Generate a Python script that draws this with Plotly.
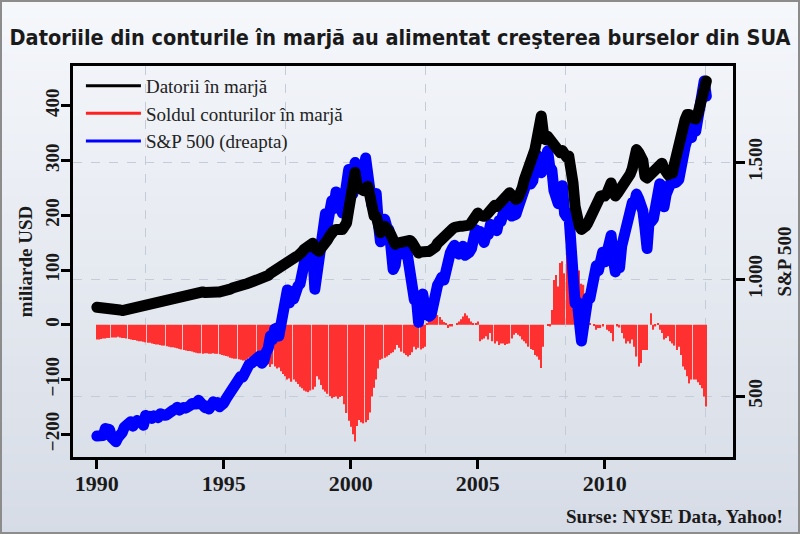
import plotly.graph_objects as go

# ---------------- data (monthly, Jan 1990 - Jan 2014) ----------------
start_year = 1990
margin_debt = [  # Datorii în marjă, miliarde USD (left axis)
    32, 32, 31, 31, 31, 31, 30, 29, 28, 27, 27, 27,        # 1990
    26, 27, 28, 29, 29, 30, 31, 32, 33, 34, 35, 36,        # 1991
    36, 37, 38, 39, 40, 41, 41, 42, 43, 44, 45, 46,        # 1992
    47, 48, 49, 50, 51, 53, 54, 56, 57, 59, 60, 60,        # 1993
    60, 61, 60, 59, 60, 60, 60, 61, 61, 60, 60, 60,        # 1994
    60, 61, 63, 65, 67, 69, 70, 71, 73, 73, 74, 75,        # 1995
    76, 77, 79, 80, 82, 84, 85, 86, 88, 90, 94, 97,        # 1996
    100, 102, 101, 104, 106, 110, 114, 118, 122, 121, 124, 126,  # 1997
    128, 133, 138, 142, 146, 149, 149, 140, 134, 134, 140, 143,  # 1998
    149, 155, 162, 170, 172, 174, 175, 172, 174, 180, 186, 210,  # 1999
    229, 255, 278, 252, 247, 247, 245, 250, 253, 236, 210, 199,  # 2000
    198, 185, 168, 172, 180, 178, 171, 164, 149, 147, 149, 150,  # 2001
    148, 150, 152, 152, 154, 150, 140, 137, 131, 133, 135, 134,  # 2002
    134, 134, 135, 138, 142, 149, 153, 158, 163, 170, 172, 174,  # 2003
    175, 178, 180, 181, 180, 180, 180, 180, 182, 187, 195, 204,  # 2004
    204, 200, 198, 198, 200, 205, 212, 216, 218, 216, 220, 225,  # 2005
    229, 233, 238, 241, 237, 232, 229, 231, 238, 250, 265, 275,  # 2006
    285, 296, 308, 320, 340, 365, 381, 350, 338, 344, 338, 330,  # 2007
    329, 320, 316, 314, 318, 310, 306, 308, 289, 259, 216, 190,  # 2008
    180, 174, 176, 180, 186, 196, 206, 216, 224, 230, 235, 236,  # 2009
    235, 240, 250, 259, 245, 235, 240, 245, 253, 262, 268, 271,  # 2010
    275, 285, 298, 320, 315, 311, 300, 271, 268, 272, 277, 277,  # 2011
    280, 287, 292, 295, 285, 276, 274, 276, 277, 295, 315, 325,  # 2012
    345, 362, 375, 384, 384, 378, 375, 376, 385, 399, 412, 425,  # 2013
    445,                                                          # 2014
]
credit_balance = [  # Soldul conturilor în marjă, miliarde USD (left axis)
    -27, -27, -26, -25, -25, -24, -24, -23, -23, -23, -22, -23,  # 1990
    -24, -24, -25, -26, -27, -28, -28, -29, -30, -30, -31, -32,  # 1991
    -33, -33, -34, -35, -36, -36, -37, -38, -38, -39, -40, -41,  # 1992
    -41, -42, -43, -44, -45, -46, -47, -48, -48, -49, -50, -51,  # 1993
    -52, -52, -53, -52, -52, -53, -53, -52, -53, -53, -54, -55,  # 1994
    -56, -57, -58, -60, -61, -62, -62, -63, -64, -65, -65, -63,  # 1995
    -60, -59, -58, -60, -58, -62, -66, -64, -68, -72, -77, -72,  # 1996
    -76, -80, -78, -85, -90, -94, -100, -98, -104, -100, -104, -108,  # 1997
    -113, -116, -120, -122, -123, -120, -118, -113, -94, -100, -110, -118,  # 1998
    -122, -126, -130, -134, -132, -131, -135, -132, -130, -145, -161, -175,  # 1999
    -186, -200, -213, -185, -174, -178, -180, -178, -174, -160, -131, -115,  # 2000
    -100, -80, -64, -62, -60, -58, -55, -52, -50, -45, -37, -42,  # 2001
    -49, -52, -55, -58, -55, -50, -40, -45, -42, -45, -43, -40,  # 2002
    3, 9, 10, 12, 15, 18, 14, 9, 5, 3, -6, -3,                   # 2003
    -3, 0, 2, 6, 10, 15, 21, 17, 12, 6, 3, 3,                    # 2004
    6, -30, -27, -25, -21, -27, -15, -30, -34, -30, -37, -34,    # 2005
    -34, -37, -35, -34, -25, -18, -15, -18, -21, -27, -30, -34,  # 2006
    -40, -44, -46, -55, -58, -64, -79, -40, 0, -2, -3, 27,       # 2007
    82, 91, 70, 113, 116, 94, 131, 152, 118, 99, 100, 100,       # 2008
    99, 75, 73, 45, 20, 3, 0, -2, -9, -6, -6, -3,                # 2009
    0, -9, -12, -15, -30, 0, -3, -5, -15, -25, -34, -30,         # 2010
    -34, -27, -40, -58, -76, -70, -46, -46, -46, 0, 21, -9,      # 2011
    -3, 3, -9, -15, -27, -24, -21, -30, -34, -38, -46, -40,      # 2012
    -55, -76, -82, -94, -107, -100, -100, -100, -105, -110, -116, -131,  # 2013
    -149,                                                         # 2014
]
sp500 = [  # S&P 500 (right axis)
    329, 331, 339, 331, 361, 358, 356, 323, 306, 304, 322, 330,
    344, 367, 375, 375, 390, 371, 388, 395, 388, 392, 375, 417,
    409, 413, 404, 415, 415, 408, 424, 414, 418, 419, 431, 436,
    439, 443, 452, 440, 450, 451, 448, 464, 459, 468, 462, 466,
    482, 467, 446, 451, 457, 444, 458, 475, 463, 472, 454, 459,
    470, 487, 501, 515, 533, 545, 562, 562, 584, 582, 606, 616,
    636, 640, 646, 654, 669, 671, 640, 652, 687, 705, 757, 741,
    786, 791, 757, 801, 848, 885, 954, 899, 947, 915, 955, 970,
    980, 1049, 1102, 1112, 1091, 1134, 1121, 957, 1017, 1099, 1164, 1229,
    1280, 1238, 1286, 1335, 1302, 1373, 1329, 1320, 1283, 1363, 1389, 1469,
    1394, 1366, 1499, 1452, 1421, 1455, 1431, 1518, 1437, 1429, 1315, 1320,
    1366, 1240, 1160, 1249, 1256, 1224, 1211, 1134, 1041, 1060, 1139, 1148,
    1130, 1107, 1147, 1076, 1067, 990, 912, 916, 815, 886, 936, 880,
    856, 841, 848, 917, 964, 975, 990, 1008, 996, 1051, 1058, 1112,
    1131, 1145, 1126, 1107, 1121, 1141, 1102, 1104, 1115, 1130, 1174, 1212,
    1181, 1204, 1181, 1157, 1192, 1191, 1234, 1220, 1229, 1207, 1249, 1248,
    1280, 1281, 1295, 1311, 1270, 1270, 1277, 1304, 1336, 1378, 1401, 1418,
    1438, 1407, 1421, 1482, 1531, 1503, 1455, 1474, 1527, 1549, 1481, 1468,
    1379, 1331, 1323, 1386, 1400, 1280, 1267, 1283, 1166, 969, 896, 903,
    826, 735, 798, 873, 919, 919, 987, 1021, 1057, 1036, 1096, 1115,
    1074, 1104, 1169, 1187, 1089, 1031, 1102, 1049, 1141, 1183, 1181, 1258,
    1286, 1327, 1326, 1364, 1345, 1321, 1292, 1219, 1131, 1253, 1247, 1258,
    1312, 1366, 1408, 1398, 1310, 1362, 1379, 1407, 1441, 1412, 1416, 1426,
    1498, 1515, 1569, 1598, 1631, 1606, 1686, 1633, 1682, 1757, 1806, 1848,
    1783,
]
months = [start_year + i / 12 for i in range(len(sp500))]

x_ticks = [1990, 1995, 2000, 2005, 2010]
left_ticks = [-200, -100, 0, 100, 200, 300, 400]
right_ticks = [500, 1000, 1500]
right_ticklabels = ["500", "1.000", "1.500"]

names = ["Datorii în marjă", "Soldul conturilor în marjă", "S&P 500 (dreapta)"]
title = "Datoriile din conturile în marjă au alimentat creşterea burselor din SUA"
source = "Surse: NYSE Data, Yahoo!"

# ---------------- figure ----------------
SERIF = "Liberation Serif, Times New Roman, serif"
W, H = 800, 534
L, R, T, B = 73, 67, 66, 77
pw, ph = W - L - R, H - T - B

fig = go.Figure()

fig.add_trace(go.Bar(x=months, y=credit_balance, marker=dict(color="#ff3030", line_width=0),
                     xaxis="x", yaxis="y", showlegend=False, hoverinfo="skip"))
fig.add_trace(go.Scatter(x=months, y=sp500, mode="lines", line=dict(color="#0000ff", width=11),
                         xaxis="x", yaxis="y2", showlegend=False, hoverinfo="skip"))
fig.add_trace(go.Scatter(x=months, y=margin_debt, mode="lines", line=dict(color="#000000", width=11),
                         xaxis="x", yaxis="y3", showlegend=False, hoverinfo="skip"))
# invisible trace carrying the vertical grid axis
fig.add_trace(go.Scatter(x=[None], y=[None], xaxis="x2", yaxis="y", showlegend=False, hoverinfo="skip"))

# legend entries (thin lines)
for nm, col in zip(names, ["#000000", "#ff2020", "#0000ff"]):
    fig.add_trace(go.Scatter(x=[None], y=[None], mode="lines", name=nm,
                             line=dict(color=col, width=3), xaxis="x", yaxis="y"))

# background gradient bands (paper)
x0p, x1p = -L / pw, (W - L) / pw
nb = 60
for i in range(nb):
    f = i / (nb - 1)
    c0, c1 = (245, 247, 251), (214, 220, 230)
    col = tuple(int(round(a + (b - a) * f)) for a, b in zip(c0, c1))
    ytop = (H - B - i * H / nb) / ph
    ybot = (H - B - (i + 1) * H / nb) / ph
    fig.add_shape(type="rect", xref="paper", yref="paper", x0=x0p, x1=x1p, y0=ybot - 0.002, y1=ytop,
                  fillcolor="rgb(%d,%d,%d)" % col, line_width=0, layer="below")
# outer border
fig.add_shape(type="rect", xref="paper", yref="paper", x0=x0p + 1 / pw, x1=x1p - 1 / pw,
              y0=(-B + 1) / ph, y1=(H - B - 1) / ph, line=dict(color="#8c8c8c", width=2),
              fillcolor="rgba(0,0,0,0)", layer="above")

BOLD_SERIF = dict(family=SERIF, size=19, color="#1a1a1a", weight="bold")
lrange = [-241.4, 472.5]
fig.update_layout(
    width=W, height=H,
    margin=dict(l=L, r=R, t=T, b=B, autoexpand=False),
    paper_bgcolor="#eef1f6", plot_bgcolor="rgba(0,0,0,0)",
    bargap=0.42, showlegend=True,
    title=dict(text="<b>" + title + "</b>", x=0.5, xanchor="center", y=1 - 37 / H, yanchor="middle",
               automargin=False,
               font=dict(family="DejaVu Sans Condensed, Liberation Sans Narrow, Arial Narrow, sans-serif",
                         size=21.5, color="#1a1a1a")),
    xaxis=dict(range=[1989.06, 2015.05], tickvals=x_ticks, ticks="outside", ticklen=9, tickwidth=3,
               tickcolor="black", showgrid=False, zeroline=False, showline=True, linecolor="black",
               linewidth=3, mirror=True, automargin=False, ticklabelstandoff=-4,
               tickfont=dict(family=SERIF, size=22, color="#1a1a1a", weight="bold")),
    xaxis2=dict(range=[1989.06, 2015.05], overlaying="x", tickmode="linear", tick0=1991.925, dtick=5.51,
                showticklabels=False, ticks="", showgrid=True, gridcolor="#c5ccd8", griddash="dash",
                gridwidth=1, zeroline=False, showline=False, automargin=False),
    yaxis=dict(range=lrange, tickvals=left_ticks, ticks="outside", ticklen=9, tickwidth=3, tickcolor="black",
               tickangle=-90, showgrid=False, zeroline=False, showline=True, linecolor="black", linewidth=3,
               mirror=True, automargin=False, tickfont=BOLD_SERIF, ticklabelstandoff=-6,
               title=dict(text="miliarde USD", font=BOLD_SERIF, standoff=5)),
    yaxis2=dict(range=[239, 1912], overlaying="y", side="right", tickvals=right_ticks, ticktext=right_ticklabels,
                ticks="outside", ticklen=9, tickwidth=3, tickcolor="black", tickangle=-90,
                showgrid=True, gridcolor="#c5ccd8", griddash="dash", gridwidth=1, zeroline=False,
                showline=True, linecolor="black", linewidth=3, automargin=False,
                tickfont=BOLD_SERIF, ticklabelstandoff=-6,
                title=dict(text="S&P 500", font=BOLD_SERIF, standoff=13)),
    yaxis3=dict(range=lrange, overlaying="y", visible=False),
    legend=dict(x=0.012, y=0.998, xanchor="left", yanchor="top", bgcolor="rgba(0,0,0,0)",
                font=dict(family=SERIF, size=19, color="#222222"), itemwidth=55, tracegroupgap=0),
    annotations=[dict(text=source, xref="paper", yref="paper", x=(785 - L) / pw,
                      y=(H - B - 516) / ph, xanchor="right", yanchor="middle", showarrow=False,
                      font=BOLD_SERIF)],
)

post = ("document.body.style.margin='0';"
        "document.querySelectorAll('.scatterlayer .js-line').forEach(function(p){"
        "p.style.strokeLinejoin='round';p.style.strokeLinecap='round';});")
fig.write_html("out.html", post_script=post, config={"displayModeBar": False})
